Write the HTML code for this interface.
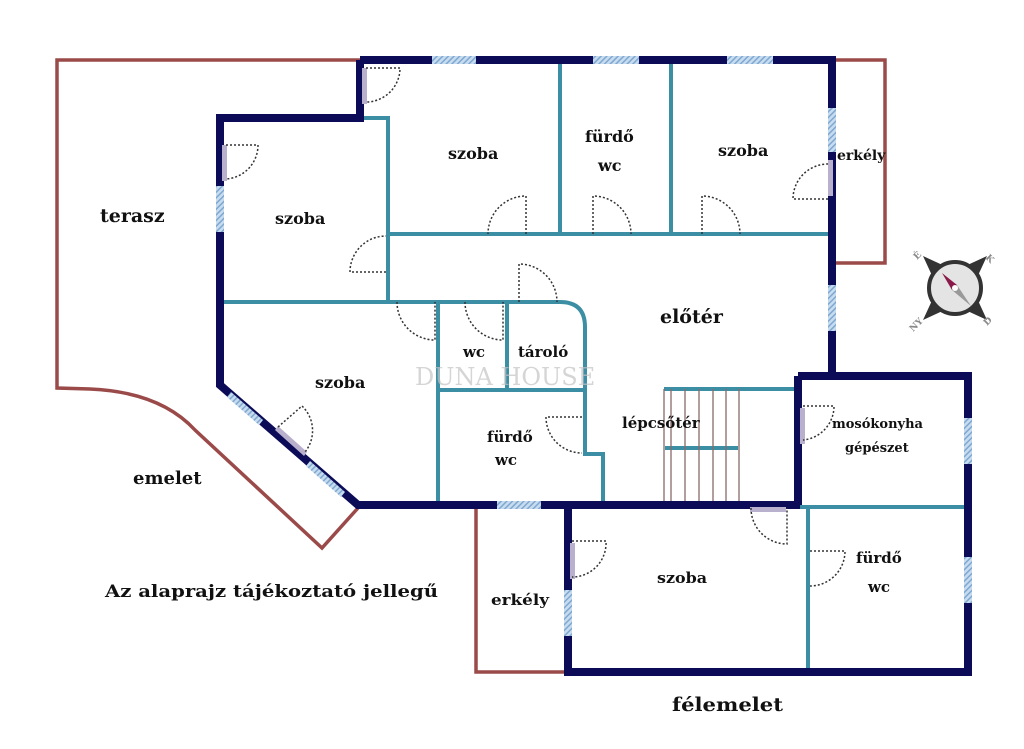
<!DOCTYPE html>
<html><head><meta charset="utf-8"><style>
html,body{margin:0;padding:0;background:#fff;}
svg{display:block}
text{font-family:"DejaVu Serif","Liberation Serif",serif;font-weight:bold;fill:#111;}
</style></head><body>
<svg width="1024" height="749" viewBox="0 0 1024 749" xmlns="http://www.w3.org/2000/svg">
<defs>
<pattern id="h" width="4" height="4" patternUnits="userSpaceOnUse" patternTransform="rotate(45)">
<rect width="4" height="4" fill="#c8dcf0"/><rect width="1.5" height="4" fill="#7fa8d0"/>
</pattern>
</defs>
<rect width="1024" height="749" fill="#fff"/>
<!-- red terraces/balconies -->
<g fill="none" stroke="#9a4a48" stroke-width="3.5">
<path d="M360 60 L57 60 L57 388 L90 389 Q160 392 195 430 L322 548 L358 508"/>
<path d="M832 60 L885 60 L885 263 L832 263"/>
<path d="M476 505 L476 672 L568 672"/>
</g>
<!-- inner teal walls -->
<g fill="none" stroke="#3b8ea3" stroke-width="4">
<path d="M362 118 L388 118 L388 302"/>
<path d="M388 234 L832 234"/>
<path d="M560 60 L560 234 M671 60 L671 234"/>
<path d="M220 302 L560 302 Q585 302 585 327 L585 454 L603 454 L603 505"/>
<path d="M438 302 L438 505 M507 302 L507 390 M438 390 L585 390"/>
<path d="M664 389 L798 389 M665 448 L738 448"/>
<path d="M800 507 L968 507 M808 507 L808 672"/>
</g>
<g stroke="#8a6a6a" stroke-width="1.3">
<path d="M664 389V502 M671 389V502 M685 389V502 M699 389V502 M713 389V502 M726 389V502 M739 389V502"/>
</g>
<!-- dark outer walls -->
<g fill="none" stroke="#0b0b57" stroke-width="8" stroke-linejoin="miter">
<path d="M360 60 L832 60 L832 376"/>
<path d="M360 60 L360 118 L220 118 L220 385 L358 505 L800 505"/>
<path d="M798 376 L968 376 L968 672 L568 672 L568 505"/>
<path d="M798 376 L798 505"/>
</g>
<!-- windows -->
<g fill="url(#h)">
<rect x="432" y="56" width="44" height="8"/><rect x="593" y="56" width="46" height="8"/><rect x="727" y="56" width="46" height="8"/>
<rect x="828" y="108" width="8" height="44"/><rect x="828" y="285" width="8" height="46"/>
<rect x="216" y="186" width="8" height="46"/>
<rect x="497" y="501" width="44" height="8"/>
<rect x="964" y="418" width="8" height="46"/><rect x="964" y="557" width="8" height="46"/>
<rect x="564" y="590" width="8" height="46"/>
<polygon points="231,392 263,420 259,425 227,397"/>
<polygon points="310,461 345,492 341,497 306,466"/>
</g>
<!-- door leaves -->
<g fill="#b8b0cc">
<rect x="362" y="68" width="5" height="36"/><rect x="222" y="145" width="5" height="36"/>
<rect x="828" y="160" width="5" height="36"/><rect x="800" y="408" width="5" height="36"/>
<rect x="570" y="543" width="5" height="36"/><rect x="750" y="507" width="36" height="5"/>
<polygon points="278,426 307,452 304,456 275,430"/>
</g>
<!-- doors dotted -->
<g fill="none" stroke="#333" stroke-width="1.5" stroke-dasharray="2 2">
<path d="M366 68 H400 A34 34 0 0 1 366 102"/>
<path d="M226 145 H258 A34 34 0 0 1 226 179"/>
<path d="M526 234 V196 A38 38 0 0 0 488 234"/>
<path d="M593 234 V196 A38 38 0 0 1 631 234"/>
<path d="M702 234 V196 A38 38 0 0 1 740 234"/>
<path d="M828 199 H793 A35 35 0 0 1 828 164"/>
<path d="M386 272 H350 A36 36 0 0 1 386 236"/>
<path d="M519 302 V264 A38 38 0 0 1 557 302"/>
<path d="M397 302 A38 38 0 0 0 435 340 V302"/>
<path d="M465 302 A38 38 0 0 0 503 340 V302"/>
<path d="M582 417 H546 A36 36 0 0 0 582 453"/>
<path d="M278 427 L302 406 A34 34 0 0 1 305 452"/>
<path d="M803 406 H834 A34 34 0 0 1 803 440"/>
<path d="M751 508 A36 36 0 0 0 787 544 V508"/>
<path d="M572 541 H606 A34 34 0 0 1 572 577"/>
<path d="M810 551 H845 A35 35 0 0 1 810 586"/>
</g>
<!-- compass -->
<g transform="translate(955,288)">
<polygon points="-32,-32 -6,-20 -20,-6" fill="#333"/><polygon points="32,-32 20,-6 6,-20" fill="#333"/>
<polygon points="32,32 6,20 20,6" fill="#333"/><polygon points="-32,32 -20,6 -6,20" fill="#333"/>
<circle r="26" fill="#e4e4e4" stroke="#333" stroke-width="4"/>
<polygon points="-13,-15 2,-3 -3,2" fill="#8a1a4a"/><polygon points="16,18 2,-3 -3,2" fill="#999"/>
<circle cx="0" cy="0" r="3" fill="#fff"/>
<text x="-38" y="-28" font-size="9" fill="#777" style="fill:#888" transform="rotate(-45 -38 -28)">É</text>
<text x="30" y="-30" font-size="9" style="fill:#888" transform="rotate(45 30 -30)">K</text>
<text x="32" y="38" font-size="9" style="fill:#888" transform="rotate(-45 32 38)">D</text>
<text x="-42" y="44" font-size="9" style="fill:#888" transform="rotate(-45 -42 44)">NY</text>
</g>
<!-- watermark -->
<text x="415" y="385" font-size="24" style="fill:#c4c4c4;font-weight:normal" opacity="0.7">DUNA HOUSE</text>
<!-- labels -->
<text x="100" y="222" font-size="19">terasz</text>
<text x="448" y="159" font-size="16">szoba</text>
<text x="585" y="142" font-size="16">fürdő</text>
<text x="598" y="171" font-size="16">wc</text>
<text x="718" y="156" font-size="16">szoba</text>
<text x="837" y="160" font-size="14">erkély</text>
<text x="275" y="224" font-size="16">szoba</text>
<text x="660" y="323" font-size="19">előtér</text>
<text x="463" y="357" font-size="15">wc</text>
<text x="518" y="357" font-size="15">tároló</text>
<text x="315" y="388" font-size="16">szoba</text>
<text x="487" y="442" font-size="15">fürdő</text>
<text x="495" y="465" font-size="15">wc</text>
<text x="622" y="428" font-size="15">lépcsőtér</text>
<text x="832" y="428" font-size="13">mosókonyha</text>
<text x="845" y="452" font-size="13">gépészet</text>
<text x="133" y="484" font-size="18">emelet</text>
<text x="105" y="597" font-size="17" textLength="333" lengthAdjust="spacingAndGlyphs">Az alaprajz tájékoztató jellegű</text>
<text x="491" y="605" font-size="15" textLength="58" lengthAdjust="spacingAndGlyphs">erkély</text>
<text x="657" y="583" font-size="15" textLength="50" lengthAdjust="spacingAndGlyphs">szoba</text>
<text x="856" y="563" font-size="15">fürdő</text>
<text x="868" y="592" font-size="15">wc</text>
<text x="672" y="711" font-size="19" textLength="111" lengthAdjust="spacingAndGlyphs">félemelet</text>
</svg>
</body></html>
